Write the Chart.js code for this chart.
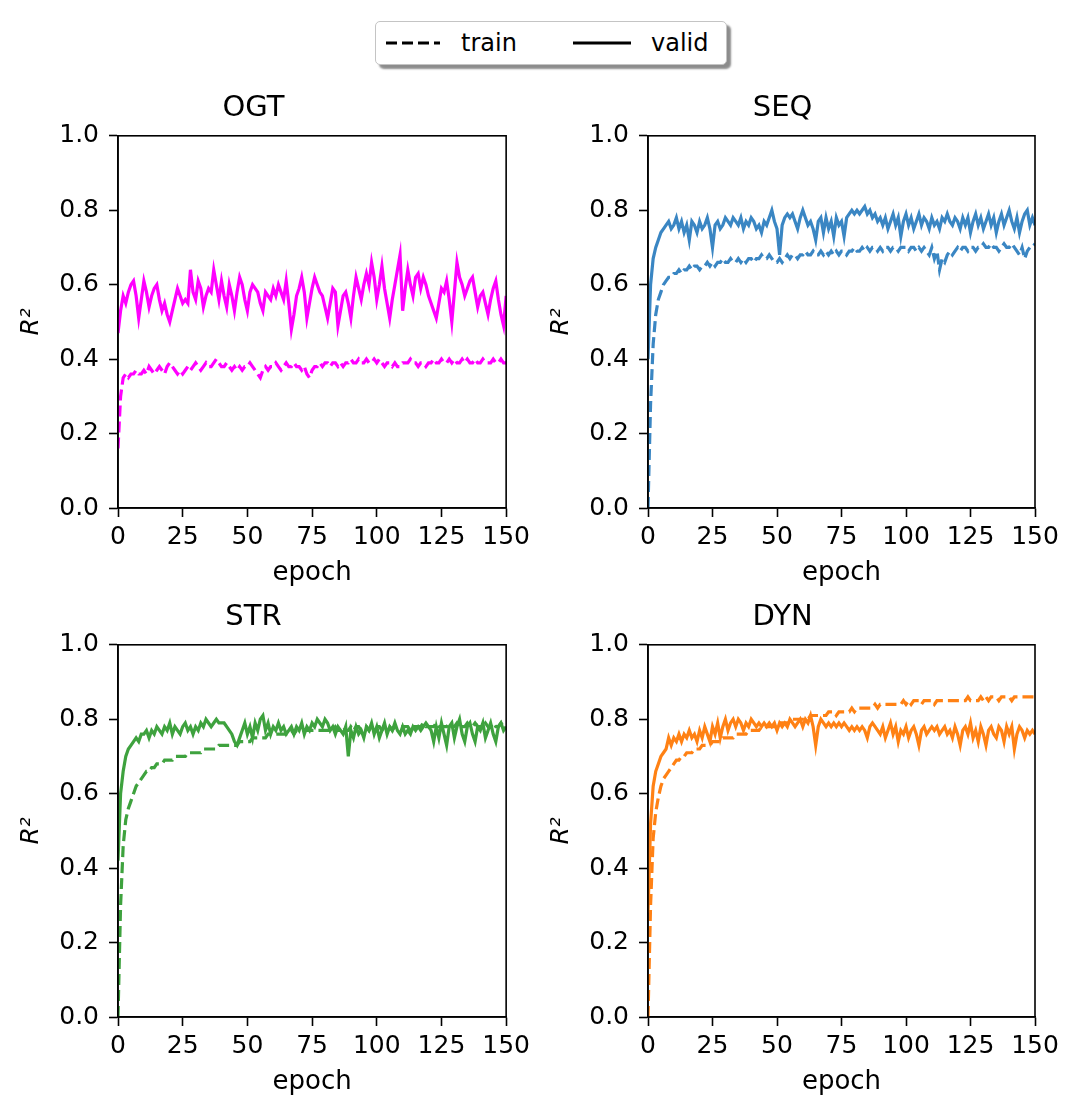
<!DOCTYPE html>
<html>
<head>
<meta charset="utf-8">
<title>R² per epoch</title>
<script src="https://cdn.jsdelivr.net/npm/chart.js@4.4.1/dist/chart.umd.min.js"></script>
<style>
  html, body { margin: 0; padding: 0; background: #fff; }
  #page { position: relative; width: 1072px; height: 1113px; overflow: hidden; font-family: "DejaVu Sans", sans-serif; }
  #page canvas { position: absolute; }
  #legend { position: absolute; left: 375px; top: 21px; width: 352px; height: 44px; box-sizing: border-box;
            border: 1.5px solid #c4c4c4; border-radius: 5px; background: #fff; box-shadow: 4px 4px 2px rgba(0,0,0,0.45); }
  #legend .sw { position: absolute; top: 0; height: 44px; }
  #legend .lbl { position: absolute; top: 0; height: 44px; line-height: 42px; font-size: 24px; color: #000; }
</style>
</head>
<body>
<div id="page">
  <div id="legend">
    <svg class="sw" style="left:9px" width="56" height="44"><line x1="1" y1="21" x2="55" y2="21" stroke="#000" stroke-width="3" stroke-dasharray="11 5"/></svg>
    <span class="lbl" style="left:85px">train</span>
    <svg class="sw" style="left:196px" width="60" height="44"><line x1="1" y1="21" x2="59" y2="21" stroke="#000" stroke-width="3"/></svg>
    <span class="lbl" style="left:275px">valid</span>
  </div>
  <canvas id="cOGT" width="535" height="525" style="left:0px;top:80px"></canvas>
  <canvas id="cSEQ" width="542" height="525" style="left:530px;top:80px"></canvas>
  <canvas id="cSTR" width="535" height="524" style="left:0px;top:589px"></canvas>
  <canvas id="cDYN" width="542" height="524" style="left:530px;top:589px"></canvas>
</div>
<script>
// epochs 0..150 on the x axis
const epochs = Array.from({ length: 151 }, (_, i) => i);
const xTicks = [0, 25, 50, 75, 100, 125, 150];
const yTicks = [0.0, 0.2, 0.4, 0.6, 0.8, 1.0];

// OGT
const ogtTrain = [
  0.16, 0.30, 0.35, 0.36, 0.35, 0.36, 0.36, 0.37, 0.36, 0.36,
  0.37, 0.36, 0.38, 0.37, 0.36, 0.37, 0.38, 0.37, 0.36, 0.38,
  0.39, 0.38, 0.37, 0.36, 0.37, 0.36, 0.37, 0.38, 0.37, 0.38,
  0.39, 0.38, 0.37, 0.38, 0.39, 0.38, 0.38, 0.39, 0.40, 0.39,
  0.38, 0.38, 0.39, 0.38, 0.37, 0.38, 0.37, 0.38, 0.37, 0.38,
  0.38, 0.39, 0.38, 0.37, 0.36, 0.35, 0.37, 0.38, 0.37, 0.38,
  0.38, 0.39, 0.38, 0.37, 0.38, 0.39, 0.38, 0.38, 0.39, 0.38,
  0.38, 0.37, 0.38, 0.36, 0.35, 0.37, 0.38, 0.38, 0.39, 0.38,
  0.39, 0.39, 0.38, 0.39, 0.39, 0.38, 0.39, 0.38, 0.39, 0.39,
  0.40, 0.39, 0.39, 0.40, 0.39, 0.39, 0.40, 0.39, 0.39, 0.40,
  0.39, 0.40, 0.39, 0.38, 0.39, 0.39, 0.38, 0.39, 0.38, 0.38,
  0.39, 0.39, 0.39, 0.40, 0.39, 0.39, 0.38, 0.39, 0.39, 0.38,
  0.39, 0.39, 0.40, 0.39, 0.39, 0.40, 0.39, 0.39, 0.40, 0.39,
  0.40, 0.39, 0.39, 0.40, 0.39, 0.40, 0.39, 0.39, 0.40, 0.39,
  0.39, 0.40, 0.39, 0.39, 0.39, 0.40, 0.39, 0.39, 0.40, 0.39,
  0.39
];
const ogtValid = [
  0.47, 0.53, 0.57, 0.55, 0.58, 0.60, 0.61, 0.57, 0.51, 0.56,
  0.61, 0.58, 0.54, 0.57, 0.59, 0.60, 0.56, 0.53, 0.55, 0.52,
  0.50, 0.53, 0.56, 0.59, 0.57, 0.55, 0.56, 0.55, 0.64, 0.58,
  0.56, 0.61, 0.59, 0.54, 0.57, 0.59, 0.58, 0.64, 0.60, 0.56,
  0.61, 0.57, 0.54, 0.60, 0.57, 0.53, 0.58, 0.62, 0.60, 0.56,
  0.53, 0.58, 0.60, 0.59, 0.58, 0.55, 0.53, 0.58, 0.57, 0.56,
  0.59, 0.57, 0.60, 0.58, 0.56, 0.61, 0.55, 0.48, 0.52, 0.57,
  0.59, 0.62, 0.58, 0.51, 0.55, 0.59, 0.62, 0.60, 0.58, 0.57,
  0.54, 0.51, 0.55, 0.59, 0.58, 0.49, 0.53, 0.57, 0.58, 0.55,
  0.51, 0.57, 0.62, 0.59, 0.56, 0.60, 0.63, 0.60, 0.66, 0.62,
  0.56, 0.60, 0.65, 0.59, 0.55, 0.51, 0.56, 0.60, 0.64, 0.68,
  0.53, 0.59, 0.64, 0.60, 0.57, 0.62, 0.63, 0.59, 0.62, 0.60,
  0.57, 0.55, 0.53, 0.51, 0.55, 0.59, 0.58, 0.61, 0.56, 0.50,
  0.58, 0.66, 0.62, 0.60, 0.57, 0.59, 0.61, 0.62, 0.58, 0.54,
  0.57, 0.58, 0.55, 0.52, 0.56, 0.59, 0.61, 0.56, 0.52, 0.49,
  0.57
];

// SEQ
const seqTrain = [
  0.00, 0.28, 0.44, 0.52, 0.56, 0.58, 0.60, 0.61, 0.62, 0.62,
  0.63, 0.63, 0.64, 0.63, 0.64, 0.64, 0.65, 0.64, 0.65, 0.65,
  0.64, 0.65, 0.65, 0.66, 0.65, 0.66, 0.65, 0.66, 0.66, 0.67,
  0.66, 0.66, 0.67, 0.66, 0.66, 0.67, 0.66, 0.67, 0.66, 0.67,
  0.67, 0.66, 0.67, 0.67, 0.68, 0.67, 0.67, 0.68, 0.67, 0.66,
  0.66, 0.67, 0.66, 0.67, 0.68, 0.67, 0.68, 0.68, 0.67, 0.68,
  0.68, 0.69, 0.68, 0.68, 0.69, 0.68, 0.68, 0.69, 0.68, 0.69,
  0.68, 0.69, 0.68, 0.69, 0.68, 0.69, 0.69, 0.68, 0.69, 0.69,
  0.70, 0.69, 0.69, 0.70, 0.69, 0.70, 0.69, 0.70, 0.70, 0.69,
  0.70, 0.69, 0.70, 0.70, 0.69, 0.70, 0.70, 0.69, 0.70, 0.70,
  0.70, 0.69, 0.70, 0.70, 0.69, 0.70, 0.69, 0.70, 0.69, 0.68,
  0.70, 0.67, 0.69, 0.64, 0.67, 0.66, 0.68, 0.69, 0.68, 0.69,
  0.70, 0.69, 0.70, 0.70, 0.69, 0.70, 0.70, 0.69, 0.70, 0.70,
  0.71, 0.70, 0.70, 0.71, 0.70, 0.70, 0.69, 0.70, 0.71, 0.70,
  0.70, 0.71, 0.70, 0.69, 0.68, 0.70, 0.67, 0.69, 0.70, 0.70,
  0.71
];
const seqValid = [
  0.40, 0.60, 0.67, 0.70, 0.72, 0.74, 0.75, 0.76, 0.77, 0.75,
  0.76, 0.78, 0.75, 0.77, 0.74, 0.76, 0.72, 0.77, 0.76, 0.74,
  0.77, 0.75, 0.76, 0.78, 0.75, 0.70, 0.76, 0.77, 0.75, 0.76,
  0.78, 0.77, 0.76, 0.78, 0.77, 0.76, 0.78, 0.75, 0.77, 0.76,
  0.78, 0.77, 0.75, 0.76, 0.74, 0.77, 0.76, 0.78, 0.80, 0.77,
  0.75, 0.68, 0.76, 0.78, 0.79, 0.78, 0.79, 0.77, 0.75, 0.78,
  0.80, 0.78, 0.76, 0.77, 0.75, 0.72, 0.77, 0.78, 0.74, 0.78,
  0.75, 0.77, 0.73, 0.78, 0.76, 0.77, 0.73, 0.78, 0.79, 0.80,
  0.79, 0.80, 0.79, 0.80, 0.81, 0.79, 0.80, 0.78, 0.79, 0.77,
  0.78, 0.76, 0.78, 0.75, 0.77, 0.79, 0.76, 0.78, 0.73, 0.77,
  0.79, 0.76, 0.78, 0.75, 0.77, 0.79, 0.76, 0.78, 0.77, 0.75,
  0.78, 0.76, 0.77, 0.75, 0.78, 0.77, 0.79, 0.77, 0.76, 0.78,
  0.77, 0.75, 0.78, 0.76, 0.78, 0.74, 0.77, 0.79, 0.76, 0.78,
  0.75, 0.77, 0.79, 0.76, 0.78, 0.74, 0.77, 0.79, 0.76, 0.78,
  0.80, 0.77, 0.75, 0.78, 0.74, 0.77, 0.79, 0.80, 0.76, 0.78,
  0.76
];

// STR
const strTrain = [
  0.00, 0.30, 0.46, 0.53, 0.56, 0.58, 0.60, 0.62, 0.63, 0.64,
  0.65, 0.66, 0.66, 0.67, 0.67, 0.68, 0.68, 0.68, 0.69, 0.69,
  0.69, 0.69, 0.70, 0.70, 0.70, 0.70, 0.70, 0.71, 0.71, 0.71,
  0.71, 0.71, 0.71, 0.72, 0.72, 0.72, 0.72, 0.72, 0.72, 0.73,
  0.73, 0.73, 0.73, 0.73, 0.73, 0.73, 0.73, 0.74, 0.74, 0.74,
  0.74, 0.74, 0.75, 0.75, 0.75, 0.75, 0.75, 0.75, 0.76, 0.76,
  0.76, 0.76, 0.76, 0.76, 0.76, 0.76, 0.76, 0.77, 0.76, 0.77,
  0.77, 0.77, 0.77, 0.77, 0.77, 0.77, 0.77, 0.77, 0.77, 0.77,
  0.77, 0.77, 0.77, 0.77, 0.78, 0.77, 0.77, 0.78, 0.77, 0.77,
  0.78, 0.77, 0.78, 0.78, 0.77, 0.78, 0.78, 0.77, 0.78, 0.78,
  0.78, 0.78, 0.77, 0.78, 0.78, 0.78, 0.77, 0.78, 0.78, 0.78,
  0.78, 0.78, 0.78, 0.77, 0.78, 0.78, 0.78, 0.78, 0.79, 0.78,
  0.78, 0.78, 0.78, 0.79, 0.78, 0.78, 0.78, 0.78, 0.79, 0.78,
  0.78, 0.79, 0.78, 0.78, 0.78, 0.79, 0.78, 0.78, 0.79, 0.78,
  0.78, 0.78, 0.79, 0.78, 0.78, 0.79, 0.78, 0.78, 0.79, 0.78,
  0.78
];
const strValid = [
  0.42, 0.60, 0.66, 0.70, 0.72, 0.73, 0.74, 0.75, 0.74, 0.76,
  0.76, 0.77, 0.75, 0.77, 0.76, 0.78, 0.77, 0.76, 0.78, 0.77,
  0.79, 0.76, 0.78, 0.77, 0.76, 0.78, 0.79, 0.77, 0.78, 0.76,
  0.78, 0.77, 0.79, 0.78, 0.80, 0.79, 0.78, 0.79, 0.80, 0.79,
  0.79, 0.79, 0.78, 0.77, 0.76, 0.74, 0.73, 0.75, 0.77, 0.79,
  0.76, 0.78, 0.75, 0.79, 0.77, 0.80, 0.81, 0.77, 0.79, 0.76,
  0.78, 0.77, 0.79, 0.77, 0.78, 0.76, 0.77, 0.78, 0.76, 0.78,
  0.77, 0.79, 0.76, 0.78, 0.77, 0.79, 0.78, 0.80, 0.79, 0.78,
  0.80, 0.79, 0.77, 0.78, 0.76, 0.78, 0.77, 0.76, 0.78, 0.70,
  0.77, 0.75, 0.78, 0.76, 0.77, 0.75, 0.78, 0.77, 0.79, 0.76,
  0.78, 0.75, 0.77, 0.79, 0.76, 0.78, 0.77, 0.79, 0.77, 0.76,
  0.78, 0.76, 0.77, 0.76, 0.78, 0.77, 0.78, 0.77, 0.78, 0.79,
  0.78, 0.77, 0.74, 0.78, 0.75, 0.79, 0.76, 0.73, 0.78, 0.79,
  0.75, 0.78, 0.80, 0.76, 0.74, 0.78, 0.79, 0.76, 0.74, 0.78,
  0.77, 0.79, 0.75, 0.77, 0.79, 0.76, 0.74, 0.78, 0.79, 0.77,
  0.78
];

// DYN
const dynTrain = [
  0.00, 0.30, 0.48, 0.55, 0.59, 0.62, 0.64, 0.65, 0.66, 0.67,
  0.68, 0.69, 0.69, 0.70, 0.70, 0.71, 0.71, 0.71, 0.72, 0.72,
  0.72, 0.73, 0.73, 0.73, 0.73, 0.74, 0.74, 0.74, 0.74, 0.75,
  0.75, 0.75, 0.75, 0.75, 0.76, 0.76, 0.76, 0.76, 0.76, 0.77,
  0.77, 0.77, 0.77, 0.77, 0.78, 0.78, 0.78, 0.78, 0.78, 0.78,
  0.79, 0.79, 0.79, 0.79, 0.79, 0.79, 0.80, 0.80, 0.80, 0.80,
  0.80, 0.80, 0.80, 0.81, 0.81, 0.81, 0.81, 0.81, 0.81, 0.81,
  0.82, 0.82, 0.82, 0.81, 0.82, 0.82, 0.82, 0.82, 0.82, 0.83,
  0.82, 0.83, 0.83, 0.83, 0.83, 0.83, 0.83, 0.83, 0.84, 0.83,
  0.84, 0.84, 0.84, 0.84, 0.84, 0.84, 0.84, 0.84, 0.84, 0.85,
  0.84, 0.85, 0.84, 0.85, 0.85, 0.85, 0.84, 0.85, 0.85, 0.85,
  0.85, 0.84, 0.85, 0.85, 0.85, 0.85, 0.85, 0.85, 0.85, 0.85,
  0.85, 0.85, 0.85, 0.85, 0.86, 0.85, 0.85, 0.85, 0.85, 0.86,
  0.85, 0.86, 0.85, 0.86, 0.86, 0.86, 0.85, 0.86, 0.86, 0.86,
  0.86, 0.85, 0.86, 0.86, 0.86, 0.86, 0.86, 0.86, 0.86, 0.86,
  0.86
];
const dynValid = [
  0.28, 0.52, 0.62, 0.66, 0.68, 0.70, 0.71, 0.72, 0.75, 0.73,
  0.75, 0.74, 0.76, 0.74, 0.76, 0.75, 0.77, 0.75, 0.76, 0.74,
  0.77, 0.75, 0.78, 0.76, 0.74, 0.78, 0.76, 0.79, 0.75, 0.78,
  0.80, 0.77, 0.79, 0.80, 0.78, 0.80, 0.79, 0.77, 0.79, 0.78,
  0.80, 0.79, 0.78, 0.79, 0.78, 0.79, 0.78, 0.79, 0.78, 0.79,
  0.77, 0.79, 0.78, 0.79, 0.78, 0.80, 0.79, 0.78, 0.79, 0.80,
  0.78, 0.80, 0.79, 0.81, 0.78, 0.73, 0.78, 0.80, 0.79, 0.78,
  0.79, 0.78, 0.79, 0.78, 0.79, 0.78, 0.79, 0.78, 0.77, 0.78,
  0.77, 0.78, 0.77, 0.78, 0.77, 0.75, 0.78, 0.79, 0.78, 0.77,
  0.76, 0.78, 0.75, 0.77, 0.79, 0.76, 0.78, 0.74, 0.77, 0.76,
  0.78, 0.75, 0.77, 0.78, 0.76, 0.73, 0.77, 0.78, 0.76, 0.77,
  0.78, 0.77, 0.78, 0.76, 0.77, 0.78, 0.76, 0.77, 0.75, 0.78,
  0.76, 0.73, 0.77, 0.78, 0.76, 0.79, 0.75, 0.77, 0.74, 0.78,
  0.76, 0.73, 0.77, 0.78, 0.76, 0.75, 0.78, 0.77, 0.74, 0.78,
  0.76, 0.78, 0.72, 0.76, 0.78, 0.77, 0.75, 0.77, 0.76, 0.77,
  0.76
];

Chart.defaults.font.family = "'DejaVu Sans', sans-serif";
Chart.defaults.color = '#000';

// closed box around each plot area, like axis spines on all four sides
const frame = {
  id: 'frame',
  afterDatasetsDraw(chart) {
    const { ctx, chartArea: a } = chart;
    ctx.save();
    ctx.strokeStyle = '#000';
    ctx.lineWidth = 1.6;
    ctx.strokeRect(a.left, a.top, a.right - a.left, a.bottom - a.top);
    ctx.restore();
  }
};

function toPoints(values) {
  return values.map((v, i) => ({ x: epochs[i], y: v }));
}

function drawPanel(id, name, color, train, valid, padRight, xAxisHeight, xTitlePad) {
  const axisLine = { display: true, color: '#000', width: 1.6 };
  const tickMarks = { drawOnChartArea: false, drawTicks: true, tickLength: 9, tickWidth: 1.6, color: '#000' };
  return new Chart(document.getElementById(id), {
    type: 'line',
    data: {
      datasets: [
        { label: 'valid', data: toPoints(valid), borderColor: color, borderWidth: 3.2,
          pointRadius: 0, tension: 0, fill: false },
        { label: 'train', data: toPoints(train), borderColor: color, borderWidth: 3.2, borderDash: [11, 5],
          pointRadius: 0, tension: 0, fill: false }
      ]
    },
    options: {
      responsive: false,
      animation: false,
      devicePixelRatio: 1,
      events: [],
      layout: { padding: { left: 0, right: padRight, top: 0, bottom: 0 } },
      plugins: {
        legend: { display: false },
        tooltip: { enabled: false },
        title: { display: true, text: name, color: '#000',
                 font: { size: 29, weight: 'normal' }, padding: { top: 11, bottom: 10 } }
      },
      scales: {
        x: {
          type: 'linear', min: 0, max: 150,
          afterBuildTicks: s => { s.ticks = xTicks.map(v => ({ value: v })); },
          afterFit: s => { s.height = xAxisHeight; },
          ticks: { font: { size: 25 }, color: '#000', padding: 5, maxRotation: 0 },
          grid: tickMarks, border: axisLine,
          title: { display: true, text: 'epoch', color: '#000', font: { size: 26 },
                   padding: { top: 0, bottom: xTitlePad } }
        },
        y: {
          type: 'linear', min: 0, max: 1,
          afterBuildTicks: s => { s.ticks = yTicks.map(v => ({ value: v })); },
          afterFit: s => { s.width = 118; },
          ticks: { font: { size: 25 }, color: '#000', padding: 10, callback: v => v.toFixed(1) },
          grid: tickMarks, border: axisLine,
          title: { display: true, text: 'R²', color: '#000', font: { size: 25, style: 'italic' },
                   padding: { top: 16, bottom: 0 } }
        }
      }
    },
    plugins: [frame]
  });
}

drawPanel('cOGT', 'OGT', '#ff00ff', ogtTrain, ogtValid, 28, 97, 16);
drawPanel('cSEQ', 'SEQ', '#3a86c3', seqTrain, seqValid, 37, 97, 16);
drawPanel('cSTR', 'STR', '#3ea23e', strTrain, strValid, 28, 96, 15);
drawPanel('cDYN', 'DYN', '#ff8114', dynTrain, dynValid, 37, 96, 15);
</script>
</body>
</html>
